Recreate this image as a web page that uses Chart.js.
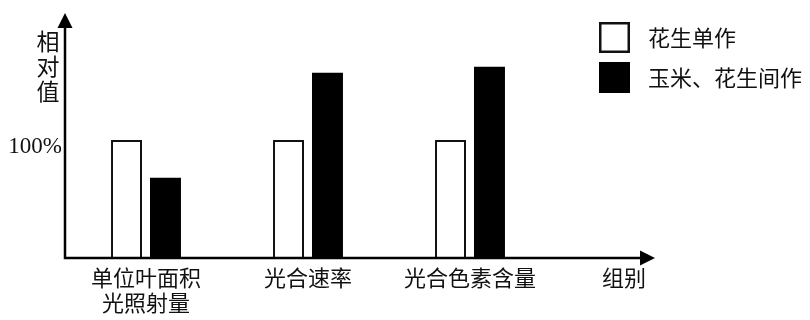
<!DOCTYPE html>
<html>
<head>
<meta charset="utf-8">
<script src="https://cdn.jsdelivr.net/npm/chart.js@4"></script>
<style>
  html, body { margin: 0; padding: 0; background: #fff; }
  #wrap { width: 810px; height: 320px; }
</style>
</head>
<body>
<div id="wrap"><canvas id="chart" width="810" height="320"></canvas></div>
<script>
(function () {
    "use strict";

    // data (relative values, 花生单作 = 100%)
    const groups = [["单位叶面积", "光照射量"], "光合速率", "光合色素含量"];
    const monoValues = [100, 100, 100];
    const interValues = [68, 157, 162];
    const seriesNames = ["花生单作", "玉米、花生间作"];
    const yTicks = [100];
    const yTitle = ["相", "对", "值"];
    const xTitle = "组别";

    const cjk = "'Noto Sans CJK SC', 'Noto Sans', sans-serif";

    // axes with arrow heads, y title, x title and legend
    const decorations = {
        id: "decorations",
        afterDraw(chart) {
            const ctx = chart.ctx;
            const area = chart.chartArea;
            const x0 = area.left;
            const y0 = chart.scales.y.getPixelForValue(0);
            const xEnd = 655;
            const yEnd = 13;

            ctx.save();
            ctx.strokeStyle = "#000";
            ctx.fillStyle = "#000";
            ctx.lineWidth = 2.5;
            ctx.beginPath();
            ctx.moveTo(x0, yEnd + 10);
            ctx.lineTo(x0, y0);
            ctx.lineTo(xEnd - 10, y0);
            ctx.stroke();

            // arrow heads
            ctx.beginPath();
            ctx.moveTo(x0, yEnd);
            ctx.lineTo(x0 - 7.5, yEnd + 15);
            ctx.lineTo(x0 + 7.5, yEnd + 15);
            ctx.closePath();
            ctx.fill();
            ctx.beginPath();
            ctx.moveTo(xEnd, y0);
            ctx.lineTo(xEnd - 15, y0 - 7.5);
            ctx.lineTo(xEnd - 15, y0 + 7.5);
            ctx.closePath();
            ctx.fill();

            // titles
            ctx.fillStyle = "#111";
            ctx.font = "23px " + cjk;
            ctx.textAlign = "center";
            ctx.textBaseline = "middle";
            yTitle.forEach((ch, i) => ctx.fillText(ch, 48, 41 + i * 25));
            ctx.font = "22px " + cjk;
            ctx.textAlign = "left";
            ctx.fillText(xTitle, 602, 278);

            // legend
            chart.data.datasets.forEach((ds, i) => {
                const by = 22 + i * 40;
                ctx.fillStyle = ds.backgroundColor;
                ctx.fillRect(599, by, 31, 31);
                if (ds.borderWidth) {
                    ctx.lineWidth = 2.5;
                    ctx.strokeStyle = ds.borderColor;
                    ctx.strokeRect(600.25, by + 1.25, 28.5, 28.5);
                }
                ctx.fillStyle = "#111";
                ctx.font = "22px " + cjk;
                ctx.textAlign = "left";
                ctx.textBaseline = "middle";
                ctx.fillText(ds.label, 648, by + 16);
            });
            ctx.restore();
        },
    };

    const ctx = document.getElementById("chart").getContext("2d");

    new Chart(ctx, {
        type: "bar",
        data: {
            labels: groups,
            datasets: [
                {
                    label: seriesNames[0],
                    data: monoValues,
                    backgroundColor: "#ffffff",
                    borderColor: "#111111",
                    borderWidth: 2,
                },
                {
                    label: seriesNames[1],
                    data: interValues,
                    backgroundColor: "#000000",
                    borderWidth: 0,
                },
            ],
        },
        options: {
            responsive: false,
            animation: false,
            maintainAspectRatio: false,
            categoryPercentage: 0.481,
            barPercentage: 0.795,
            layout: {
                padding: { left: 0, top: 22, right: 259, bottom: 0 },
            },
            plugins: {
                legend: { display: false },
                tooltip: { enabled: false },
            },
            scales: {
                x: {
                    grid: { display: false, drawTicks: false },
                    border: { display: false },
                    ticks: {
                        color: "#111",
                        padding: 8,
                        maxRotation: 0,
                        autoSkip: false,
                        font: { family: cjk, size: 22, lineHeight: 1.1 },
                    },
                    afterFit(scale) {
                        scale.height = 62;
                    },
                },
                y: {
                    min: 0,
                    max: 200,
                    grid: { display: false, drawTicks: false },
                    border: { display: false },
                    afterBuildTicks(scale) {
                        scale.ticks = yTicks.map((v) => ({ value: v }));
                    },
                    ticks: {
                        color: "#111",
                        padding: 3,
                        labelOffset: 7,
                        callback: (v) => v + "%",
                        font: { family: "'Liberation Serif', serif", size: 23 },
                    },
                    afterFit(scale) {
                        scale.width = 65;
                    },
                },
            },
        },
        plugins: [decorations],
    });
})();
</script>
</body>
</html>
